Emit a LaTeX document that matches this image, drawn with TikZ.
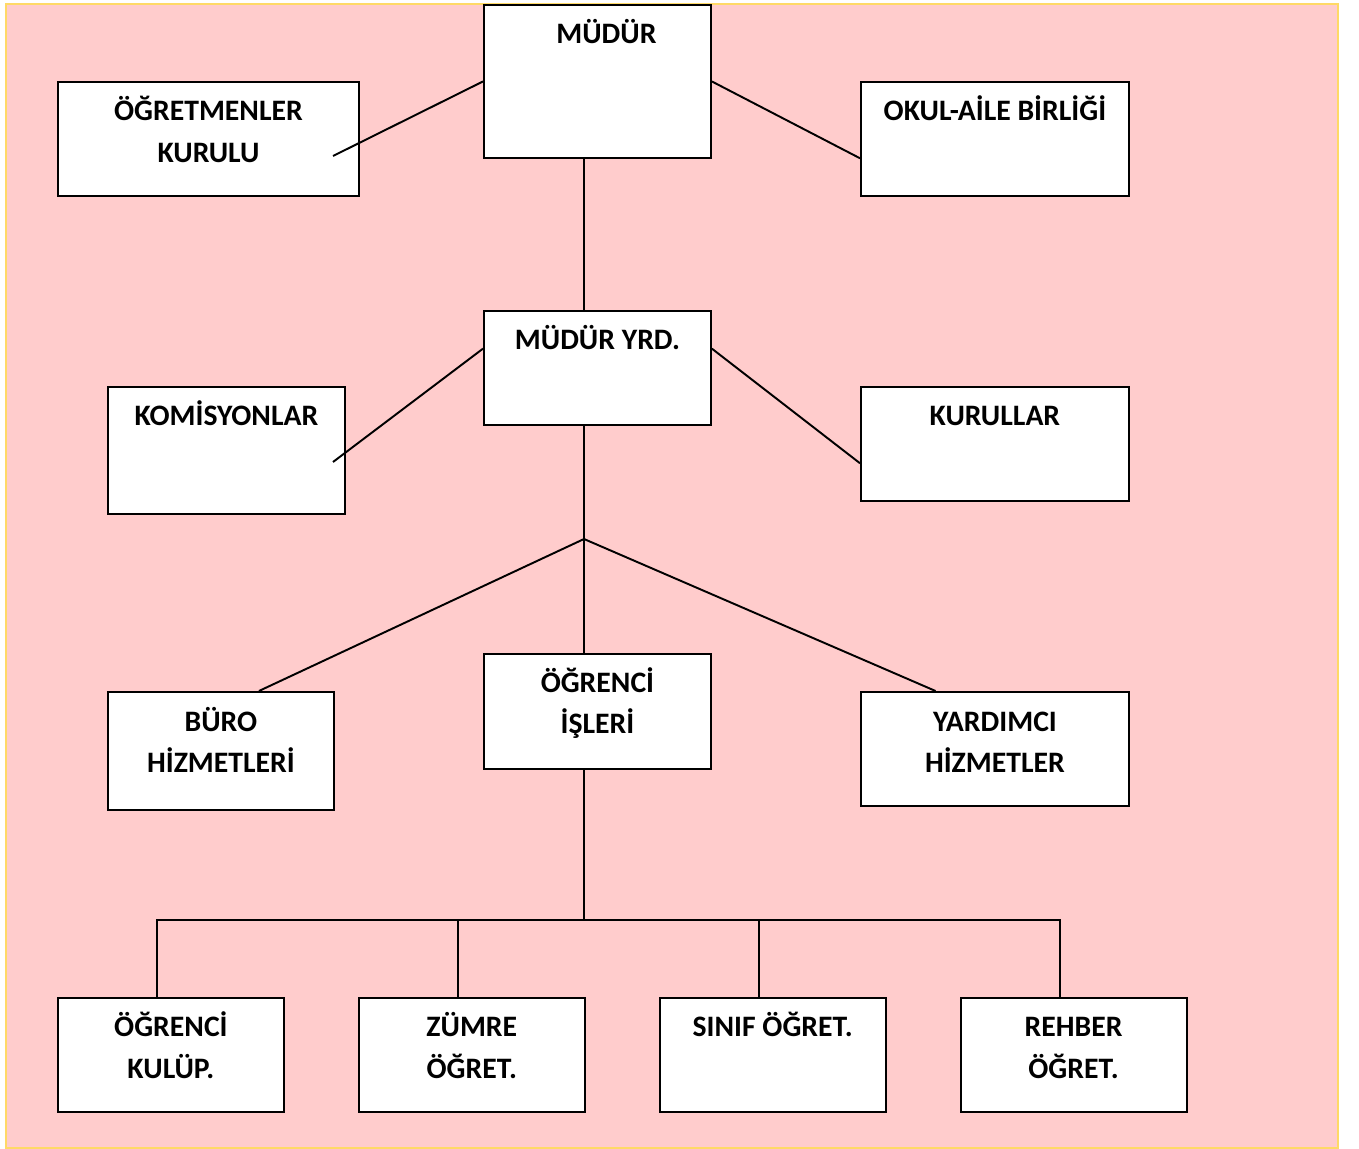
\documentclass[tikz,border=0pt]{standalone}
\usepackage{fontspec}
\setmainfont{Carlito}
\usetikzlibrary{positioning,calc}
\definecolor{pinkbg}{RGB}{255,204,204}
\definecolor{frameyellow}{RGB}{255,217,102}

\begin{document}
\begin{tikzpicture}[
      x=0.02cm, y=-0.02cm,
      line width=1.1pt,
      unit/.style = {
        rectangle, draw=black, fill=white, anchor=north west,
        inner sep=0pt, minimum width=4.54cm, minimum height=2.28cm,
      },
      caption/.style = {
        anchor=north, align=center, inner sep=0pt, text height=0pt,
        yshift=-0.76cm,
        font=\fontsize{16.9pt}{23.8pt}\selectfont\bfseries,
      },
      twoline/.style = { caption, yshift=-0.84cm },
      connector/.style = {
        black, line width=1.1pt,
      },
    ]
    \path[use as bounding box] (0,0) rectangle (1359,1149);
    \draw[frameyellow, fill=pinkbg] (6,4) rectangle (1338,1148);

    \node[unit, minimum height=3.06cm, label={[caption,xshift=0.18cm]north:MÜDÜR}] (Mudur) at (483,4) {};
    \node[unit, minimum width=6.02cm, label={[twoline]north:ÖĞRETMENLER\\KURULU}] (Ogretmenler) at (57,81) {};
    \node[unit, minimum width=5.36cm, label={[caption]north:OKUL-AİLE BİRLİĞİ}] (OkulAile) at (860,81) {};
    \node[unit, label={[caption]north:MÜDÜR YRD.}] (MudurYrd) at (483,310) {};
    \node[unit, minimum width=4.74cm, minimum height=2.54cm, label={[caption]north:KOMİSYONLAR}] (Komisyonlar) at (107,386) {};
    \node[unit, minimum width=5.36cm, label={[caption]north:KURULLAR}] (Kurullar) at (860,386) {};
    \node[unit, minimum width=4.52cm, minimum height=2.36cm, label={[twoline]north:BÜRO\\HİZMETLERİ}] (Buro) at (107,691) {};
    \node[unit, minimum height=2.30cm, label={[twoline]north:ÖĞRENCİ\\İŞLERİ}] (Isleri) at (483,653) {};
    \node[unit, minimum width=5.36cm, label={[twoline]north:YARDIMCI\\HİZMETLER}] (Yardimci) at (860,691) {};
    \node[unit, minimum width=4.52cm, label={[twoline]north:ÖĞRENCİ\\KULÜP.}] (Kulup) at (57,997) {};
    \node[unit, minimum width=4.52cm, right=1.46cm of Kulup, label={[twoline]north:ZÜMRE\\ÖĞRET.}] (Zumre) {};
    \node[unit, minimum width=4.52cm, right=1.46cm of Zumre, label={[caption]north:SINIF ÖĞRET.}] (Sinif) {};
    \node[unit, minimum width=4.52cm, right=1.46cm of Sinif, label={[twoline]north:REHBER\\ÖĞRET.}] (Rehber) {};

    \coordinate (Spine) at (584,0);
    \coordinate (OgretmenlerEnd) at (333,156);
    \coordinate (KomisyonlarEnd) at (333,462);
    \coordinate (Branch) at (584,539);
    \coordinate (Hub) at (584,920);

    \draw[connector] (Mudur.west) -- (OgretmenlerEnd);
    \draw[connector] (Mudur.east) -- ($(OkulAile.south west)!1/3!(OkulAile.north west)$);
    \draw[connector] (Mudur.south -| Spine) -- (MudurYrd.north -| Spine);
    \draw[connector] ($(MudurYrd.north west)!1/3!(MudurYrd.south west)$) -- (KomisyonlarEnd);
    \draw[connector] ($(MudurYrd.north east)!1/3!(MudurYrd.south east)$) -- ($(Kurullar.north west)!2/3!(Kurullar.south west)$);
    \draw[connector] (MudurYrd.south -| Spine) -- (Branch) -- (Isleri.north -| Spine);
    \draw[connector] (Branch) -- ($(Buro.north west)!2/3!(Buro.north east)$);
    \draw[connector] (Branch) -- ($(Yardimci.north west)!0.28!(Yardimci.north east)$);
    \draw[connector] (Isleri.south -| Spine) -- (Hub);
    \foreach \target in {Kulup,Zumre,Sinif,Rehber}
      \draw[connector] ($(\target.north west)+(100,0)$) |- (Hub);
  \end{tikzpicture}
\end{document}
